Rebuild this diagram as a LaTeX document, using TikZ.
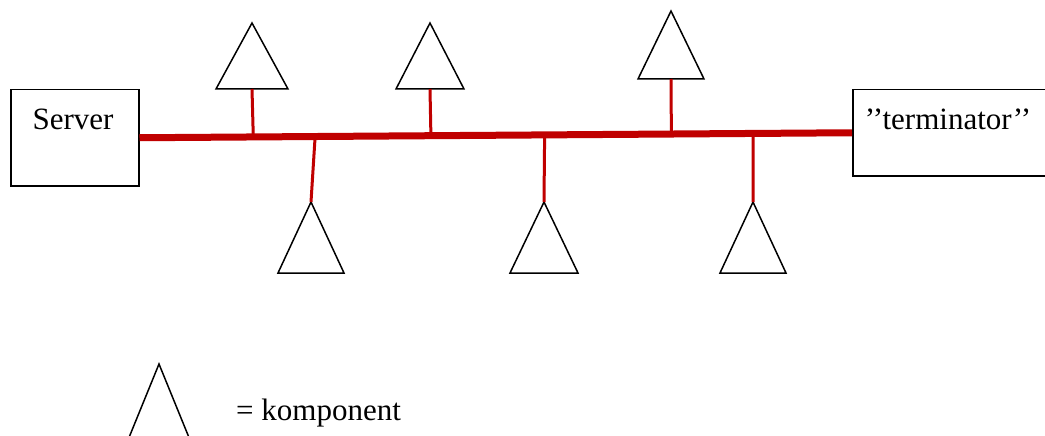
\documentclass[tikz,border=0pt]{standalone}
\usepackage{fontspec}
\setmainfont{Liberation Serif}
\usetikzlibrary{calc}
\definecolor{busred}{RGB}{192, 0, 0}

\tikzset{
  box/.style={draw, line width=1.5, inner sep=0, anchor=north west},
  boxtext/.style={font=\fontsize{31}{36}\selectfont, inner sep=0, anchor=base},
  bus/.style={busred, line width=7},
  stub/.style={busred, line width=3},
  komp/.style={line width=1.5, line join=miter}
}

\begin{document}
\begin{tikzpicture}[x=1pt, y=-1pt]

  \useasboundingbox (0, 0) rectangle (1045, 436);

  % the two end boxes
  \node[box, minimum width=128, minimum height=96] (server) at (10, 89) {};
  \node[box, minimum width=193, minimum height=86] (term) at (852, 89) {};
  \node[boxtext] (servertext) at (73, 129) {Server};
  \node[boxtext] (termtext) at (948, 129) {\char"2019\char"2019terminator\char"2019\char"2019};

  % the bus between them
  \draw[bus] (server.east) -- (term.west);

  % components: name/apex x/apex y/half width/height
  \foreach \n/\x/\y/\w/\h in {ka/252/23/36/66, kb/430/23/34/66, kc/671/11/33/68,
                               kd/311/202/33/71, ke/544/202/34/71, kf/753/202/33/71} {
    \draw[komp] (\x-\w, \y+\h) -- (\x, \y) -- (\x+\w, \y+\h) -- cycle;
    \coordinate (top-\n) at (\x, \y);
    \coordinate (base-\n) at (\x, \y+\h);
  }

  % taps on the bus
  \foreach \n/\p in {ka/0.1597, kb/0.4090, kc/0.7465, kd/0.2465, ke/0.5686, kf/0.8613} {
    \coordinate (tap-\n) at ($(server.east)!\p!(term.west)$);
  }

  \draw[stub] (tap-ka) -- (base-ka);
  \draw[stub] (tap-kb) -- (base-kb);
  \draw[stub] (tap-kc) -- (base-kc);
  \draw[stub] (tap-kd) -- (top-kd);
  \draw[stub] (tap-ke) -- (top-ke);
  \draw[stub] (tap-kf) -- (top-kf);

  % legend
  \draw[komp] (128, 440) -- (159, 364) -- (190, 440);
  \node[boxtext, anchor=base west] (legend) at (236, 420) {= komponent};

\end{tikzpicture}
\end{document}
